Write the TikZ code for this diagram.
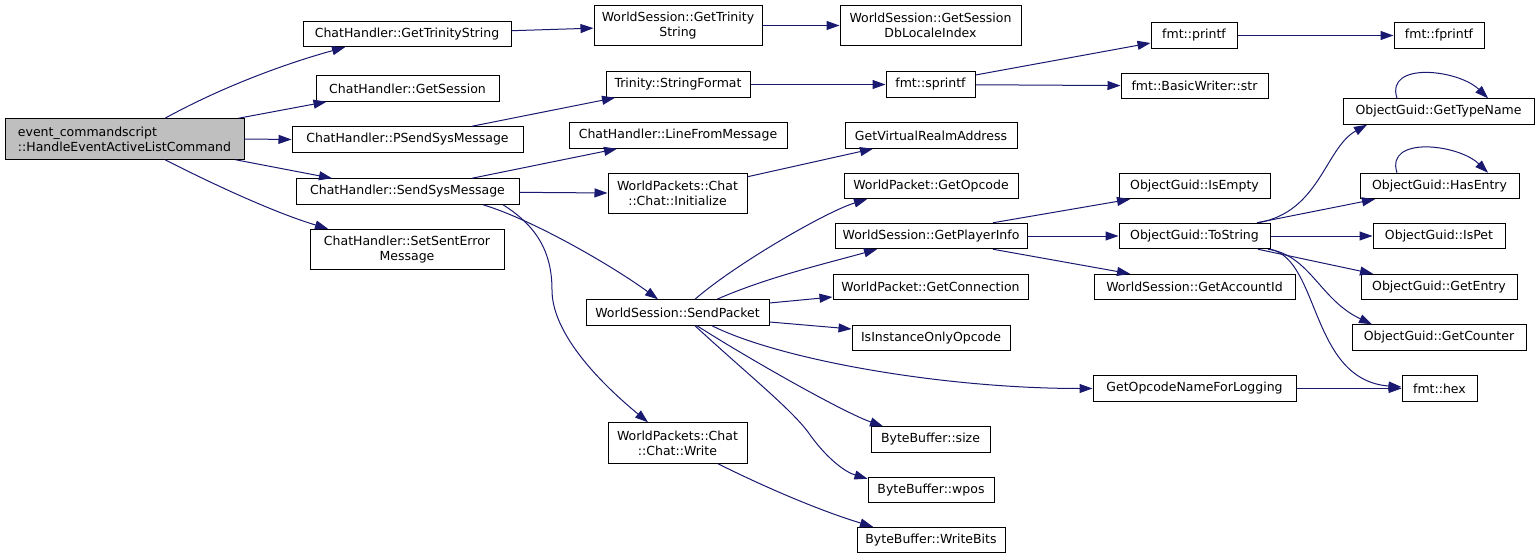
\documentclass[tikz,border=0pt]{standalone}
\usepackage{fontspec}
\setmainfont{DejaVu Sans}
\usetikzlibrary{arrows.meta}
\definecolor{edgec}{HTML}{191970}
\definecolor{rootfill}{HTML}{BFBFBF}
\begin{document}
\begin{tikzpicture}[x=1pt,y=-1pt,
  fn/.style={draw=black, line width=1pt, fill=white, inner sep=0pt, align=center,
    font=\fontsize{12.5}{15}\selectfont, minimum height=25.5pt},
  two/.style={minimum height=40.5pt},
  e/.style={draw=edgec, line width=1pt, -{Triangle[length=13pt,width=9pt,fill=edgec]}}]
\useasboundingbox (0,0) rectangle (1540,559);
% column 1
\node[fn, two, minimum width=239pt, fill=rootfill, align=left] (root) at (124.5,139) {event\_commandscript\\::HandleEventActiveListCommand};
% column 2
\node[fn, minimum width=208pt] (cgts) at (407,34) {ChatHandler::GetTrinityString};
\node[fn, minimum width=183pt] (cgs) at (407.5,88.5) {ChatHandler::GetSession};
\node[fn, minimum width=231pt] (cps) at (407.5,139.5) {ChatHandler::PSendSysMessage};
\node[fn, minimum width=223pt] (css) at (407.5,191.5) {ChatHandler::SendSysMessage};
\node[fn, two, minimum width=194pt] (cse) at (407,249.5) {ChatHandler::SetSentError\\Message};
% column 3
\node[fn, two, minimum width=168pt] (wgts) at (678,25.5) {WorldSession::GetTrinity\\String};
\node[fn, minimum width=144pt] (tsf) at (678,84.5) {Trinity::StringFormat};
\node[fn, minimum width=218pt] (clm) at (678,135.5) {ChatHandler::LineFromMessage};
\node[fn, two, minimum width=139pt] (wci) at (677.5,193.5) {WorldPackets::Chat\\::Chat::Initialize};
\node[fn, minimum width=183pt] (wsp) at (677.5,312.5) {WorldSession::SendPacket};
\node[fn, two, minimum width=139pt] (wcw) at (677.5,443) {WorldPackets::Chat\\::Chat::Write};
% column 4
\node[fn, two, minimum width=181pt] (wgsdl) at (930.5,25.5) {WorldSession::GetSession\\DbLocaleIndex};
\node[fn, minimum width=89pt] (fsp) at (930.5,84.5) {fmt::sprintf};
\node[fn, minimum width=172pt] (gvra) at (931,135.5) {GetVirtualRealmAddress};
\node[fn, minimum width=174pt] (wpgo) at (931,186) {WorldPacket::GetOpcode};
\node[fn, minimum width=192pt] (wsgpi) at (931,236) {WorldSession::GetPlayerInfo};
\node[fn, minimum width=195pt] (wpgc) at (930.5,287) {WorldPacket::GetConnection};
\node[fn, minimum width=158pt] (iioo) at (931,338) {IsInstanceOnlyOpcode};
\node[fn, minimum width=119pt] (bbs) at (930.5,439.5) {ByteBuffer::size};
\node[fn, minimum width=126pt] (bbw) at (931,490) {ByteBuffer::wpos};
\node[fn, minimum width=148pt] (bbwb) at (931,540) {ByteBuffer::WriteBits};
% column 5
\node[fn, minimum width=86pt] (fpr) at (1194,35.5) {fmt::printf};
\node[fn, minimum width=147pt] (fbws) at (1194.5,86) {fmt::BasicWriter::str};
\node[fn, minimum width=151pt] (oie) at (1194.5,186) {ObjectGuid::IsEmpty};
\node[fn, minimum width=151pt] (ots) at (1194.5,236) {ObjectGuid::ToString};
\node[fn, minimum width=201pt] (wgai) at (1194.5,287) {WorldSession::GetAccountId};
\node[fn, minimum width=203pt] (gonl) at (1194.5,388.5) {GetOpcodeNameForLogging};
% column 6
\node[fn, minimum width=90pt] (fff) at (1439,35.5) {fmt::fprintf};
\node[fn, minimum width=191pt] (ogtn) at (1438.5,111.5) {ObjectGuid::GetTypeName};
\node[fn, minimum width=159pt] (ohe) at (1439.5,186) {ObjectGuid::HasEntry};
\node[fn, minimum width=132pt] (oip) at (1439,236) {ObjectGuid::IsPet};
\node[fn, minimum width=156pt] (oge) at (1439,287) {ObjectGuid::GetEntry};
\node[fn, minimum width=174pt] (ogc) at (1439,337.5) {ObjectGuid::GetCounter};
\node[fn, minimum width=75pt] (fhex) at (1439.5,388.5) {fmt::hex};
% edges from root
\draw[e] ([xshift=40.5pt]root.north) .. controls +(60,-33) and +(-55,15) .. ([xshift=-62pt]cgts.south);
\draw[e] ([xshift=-6pt]root.north east) -- ([xshift=-81pt]cgs.south);
\draw[e] (root.east) -- (cps.west);
\draw[e] ([xshift=-9pt]root.south east) -- ([xshift=-75.5pt]css.north);
\draw[e] ([xshift=40.5pt]root.south) .. controls +(55,28) and +(-50,-15) .. ([xshift=-79pt]cse.north);
% column 2 edges
\draw[e] (cgts) -- (wgts);
\draw[e] (wgts) -- (wgsdl);
\draw[e] ([xshift=64.5pt]cps.north) -- ([xshift=-63pt]tsf.south);
\draw[e] ([xshift=64.5pt]css.north) -- ([xshift=-61pt]clm.south);
\draw[e] (css) -- (wci);
\draw[e] ([xshift=75.5pt]css.south) .. controls +(50,15) and +(-45,-33) .. ([xshift=-19.5pt]wsp.north);
\draw[e] ([xshift=95.5pt]css.south) .. controls (535,225) and (552,250) .. (552,290) .. controls (552,340) and (615,395) .. ([xshift=-29.5pt]wcw.north);
% column 3 edges
\draw[e] (tsf) -- (fsp);
\draw[e] ([yshift=-4pt]wci.north east) -- ([xshift=-58pt]gvra.south);
\draw[e] ([xshift=17.5pt]wsp.north) .. controls +(40,-35) and +(-40,12) .. ([xshift=-64pt]wpgo.south);
\draw[e] ([xshift=39.5pt]wsp.north) .. controls +(50,-22) and +(-50,14) .. ([xshift=-54pt]wsgpi.south);
\draw[e] ([yshift=9.5pt]wsp.east) -- ([yshift=-10pt]wpgc.west);
\draw[e] ([yshift=-9.5pt]wsp.east) -- ([yshift=9pt]iioo.west);
\draw[e] ([xshift=34.5pt]wsp.south) .. controls +(68,34) and +(-150,0) .. (gonl.west);
\draw[e] ([xshift=19.5pt]wsp.south) .. controls +(50,32) and +(-40,-14) .. ([xshift=-47.5pt]bbs.north);
\draw[e] ([xshift=17.5pt]wsp.south) .. controls (745,372) and (790,408) .. (808,432) .. controls (826,458) and (845,472) .. ([yshift=-2pt]bbw.north west);
\draw[e] ([xshift=40.5pt]wcw.south) .. controls +(50,25) and +(-50,-15) .. ([xshift=-58pt]bbwb.north);
% column 4 edges
\draw[e] ([yshift=9.5pt]fsp.east) -- ([yshift=-7.5pt]fpr.west);
\draw[e] (fsp) -- (fbws);
\draw[e] ([xshift=62pt]wsgpi.north) -- ([xshift=-64.5pt]oie.south);
\draw[e] (wsgpi) -- (ots);
\draw[e] ([xshift=62pt]wsgpi.south) -- ([xshift=-64.5pt]wgai.north);
% column 5 edges
\draw[e] (fpr) -- (fff);
\draw[e] (gonl) -- (fhex);
\draw[e] ([xshift=63.5pt]ots.north) .. controls (1320,212) and (1325,148) .. ([xshift=-71.5pt]ogtn.south);
\draw[e] ([xshift=62.5pt]ots.north) -- ([xshift=-64.5pt]ohe.south);
\draw[e] (ots) -- (oip);
\draw[e] ([xshift=63.5pt]ots.south) -- ([xshift=-66pt]oge.north);
\draw[e] ([xshift=73.5pt]ots.south) .. controls (1310,255) and (1320,300) .. ([xshift=-67pt]ogc.north);
\draw[e] (ots.south east) .. controls (1320,260) and (1310,380) .. ([yshift=1.5pt]fhex.west);
% self loops
\draw[e] ([xshift=-41.5pt]ogtn.north) .. controls +(-12,-37) and +(-30,-29) .. ([xshift=49.5pt]ogtn.north);
\draw[e] ([xshift=-42.5pt]ohe.north) .. controls +(-12,-37) and +(-30,-29) .. ([xshift=48.5pt]ohe.north);
\end{tikzpicture}
\end{document}
